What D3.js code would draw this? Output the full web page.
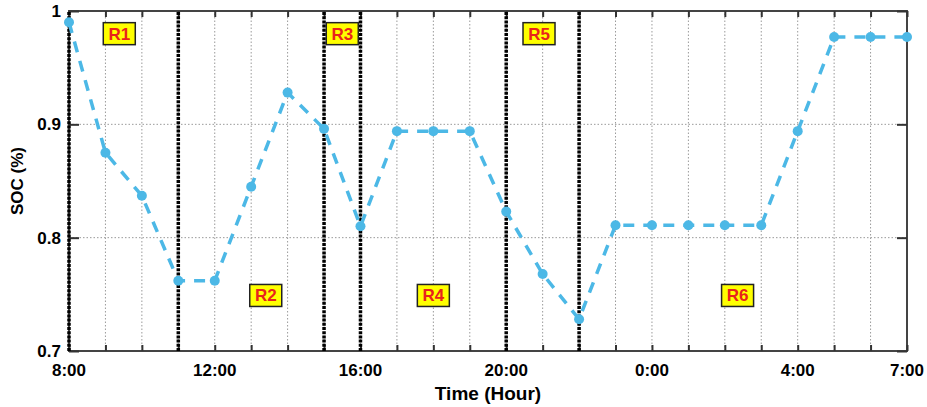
<!DOCTYPE html>
<html>
<head>
<meta charset="utf-8">
<script src="https://cdn.jsdelivr.net/npm/d3@7"></script>
<style>
  body { margin: 0; background: #fff; }
  text { font-family: "Liberation Sans", Arial, sans-serif; font-weight: bold; }
</style>
</head>
<body>
<div id="app"></div>
<script>
// hours counted from 8:00 (0) to 7:00 next day (23)
const hours = d3.range(0, 24);
const soc = [0.99, 0.875, 0.837, 0.762, 0.762, 0.845, 0.928, 0.896, 0.810, 0.894, 0.894, 0.894,
             0.823, 0.768, 0.728, 0.811, 0.811, 0.811, 0.811, 0.811, 0.894, 0.977, 0.977, 0.977];

const xTickHours = [0, 4, 8, 12, 16, 20, 23];
const xTickLabels = ['8:00', '12:00', '16:00', '20:00', '0:00', '4:00', '7:00'];
const yTicks = [0.7, 0.8, 0.9, 1];
const yTickLabels = ['0.7', '0.8', '0.9', '1'];

// region boundaries (black dotted lines) and region labels
const boundaries = [0, 3, 7, 8, 12, 14];
const regionNames = ['R1', 'R2', 'R3', 'R4', 'R5', 'R6'];
const regionX = [1.38, 5.4, 7.5, 10.0, 12.9, 18.35];
const regionY = [0.98, 0.749, 0.98, 0.749, 0.98, 0.749];

const width = 927;
const height = 407;
const margin = { top: 11, right: 20, bottom: 56, left: 69 };

const svg = d3.select('#app').append('svg')
    .attr('width', width)
    .attr('height', height);

const x = d3.scaleLinear()
    .domain([0, 23])
    .range([margin.left, width - margin.right]);

const y = d3.scaleLinear()
    .domain([0.7, 1])
    .range([height - margin.bottom, margin.top]);

// grid
svg.append('g')
    .selectAll('line')
    .data(hours.filter(h => h > 0 && h < 23))
    .join('line')
    .attr('x1', d => x(d)).attr('x2', d => x(d))
    .attr('y1', y(0.7)).attr('y2', y(1))
    .attr('stroke', '#9a9a9a')
    .attr('stroke-width', 1)
    .attr('stroke-dasharray', '1.5,2');

svg.append('g')
    .selectAll('line')
    .data([0.8, 0.9])
    .join('line')
    .attr('x1', x(0)).attr('x2', x(23))
    .attr('y1', d => y(d)).attr('y2', d => y(d))
    .attr('stroke', '#9a9a9a')
    .attr('stroke-width', 1)
    .attr('stroke-dasharray', '1.5,2');

// frame
svg.append('rect')
    .attr('x', x(0)).attr('y', y(1))
    .attr('width', x(23) - x(0)).attr('height', y(0.7) - y(1))
    .attr('fill', 'none')
    .attr('stroke', '#444')
    .attr('stroke-width', 2);

// axes with inward ticks
svg.append('g')
    .attr('transform', `translate(0,${y(0.7)})`)
    .call(d3.axisTop(x).tickValues(hours).tickSize(6).tickFormat(''))
    .call(g => g.select('.domain').remove())
    .selectAll('line').attr('stroke', '#333').attr('stroke-width', 2);

svg.append('g')
    .attr('transform', `translate(0,${y(1)})`)
    .call(d3.axisBottom(x).tickValues(hours).tickSize(6).tickFormat(''))
    .call(g => g.select('.domain').remove())
    .selectAll('line').attr('stroke', '#333').attr('stroke-width', 2);

svg.append('g')
    .attr('transform', `translate(${x(23)},0)`)
    .call(d3.axisLeft(y).tickValues(yTicks).tickSize(10).tickFormat(''))
    .call(g => g.select('.domain').remove())
    .selectAll('line').attr('stroke', '#333').attr('stroke-width', 2);

svg.append('g')
    .attr('transform', `translate(${x(0)},0)`)
    .call(d3.axisRight(y).tickValues(yTicks).tickSize(10).tickFormat(''))
    .call(g => g.select('.domain').remove())
    .selectAll('line').attr('stroke', '#333').attr('stroke-width', 2);

// region boundary lines
svg.append('g')
    .selectAll('line')
    .data(boundaries)
    .join('line')
    .attr('x1', d => x(d)).attr('x2', d => x(d))
    .attr('y1', y(0.7)).attr('y2', y(1))
    .attr('stroke', '#000')
    .attr('stroke-width', 3.5)
    .attr('stroke-dasharray', '3,1.2');

// tick labels
svg.append('g')
    .selectAll('text')
    .data(xTickHours)
    .join('text')
    .attr('x', d => x(d))
    .attr('y', y(0.7) + 25)
    .attr('text-anchor', 'middle')
    .attr('font-size', 17)
    .text((d, i) => xTickLabels[i]);

svg.append('g')
    .selectAll('text')
    .data(yTicks)
    .join('text')
    .attr('x', x(0) - 8)
    .attr('y', d => y(d) + 6)
    .attr('text-anchor', 'end')
    .attr('font-size', 17)
    .text((d, i) => yTickLabels[i]);

// axis titles
svg.append('text')
    .attr('x', x(11.5))
    .attr('y', 400)
    .attr('text-anchor', 'middle')
    .attr('font-size', 19)
    .text('Time (Hour)');

svg.append('text')
    .attr('transform', `translate(23,${y(0.85)}) rotate(-90)`)
    .attr('text-anchor', 'middle')
    .attr('font-size', 17)
    .text('SOC (%)');

// series
const line = d3.line()
    .x((d, i) => x(hours[i]))
    .y(d => y(d));

svg.append('path')
    .datum(soc)
    .attr('d', line)
    .attr('fill', 'none')
    .attr('stroke', '#4cb8e6')
    .attr('stroke-width', 3.5)
    .attr('stroke-dasharray', '11,9');

svg.append('g')
    .selectAll('circle')
    .data(soc)
    .join('circle')
    .attr('cx', (d, i) => x(hours[i]))
    .attr('cy', d => y(d))
    .attr('r', 5)
    .attr('fill', '#4cb8e6');

// region labels
const reg = svg.append('g')
    .selectAll('g')
    .data(regionNames)
    .join('g')
    .attr('transform', (d, i) => `translate(${x(regionX[i])},${y(regionY[i])})`);

reg.append('rect')
    .attr('x', -16).attr('y', -11)
    .attr('width', 32).attr('height', 22)
    .attr('fill', '#ffff00')
    .attr('stroke', '#222')
    .attr('stroke-width', 1.5);

reg.append('text')
    .attr('text-anchor', 'middle')
    .attr('y', 6)
    .attr('font-size', 17)
    .attr('fill', '#e8231c')
    .text(d => d);
</script>
</body>
</html>
